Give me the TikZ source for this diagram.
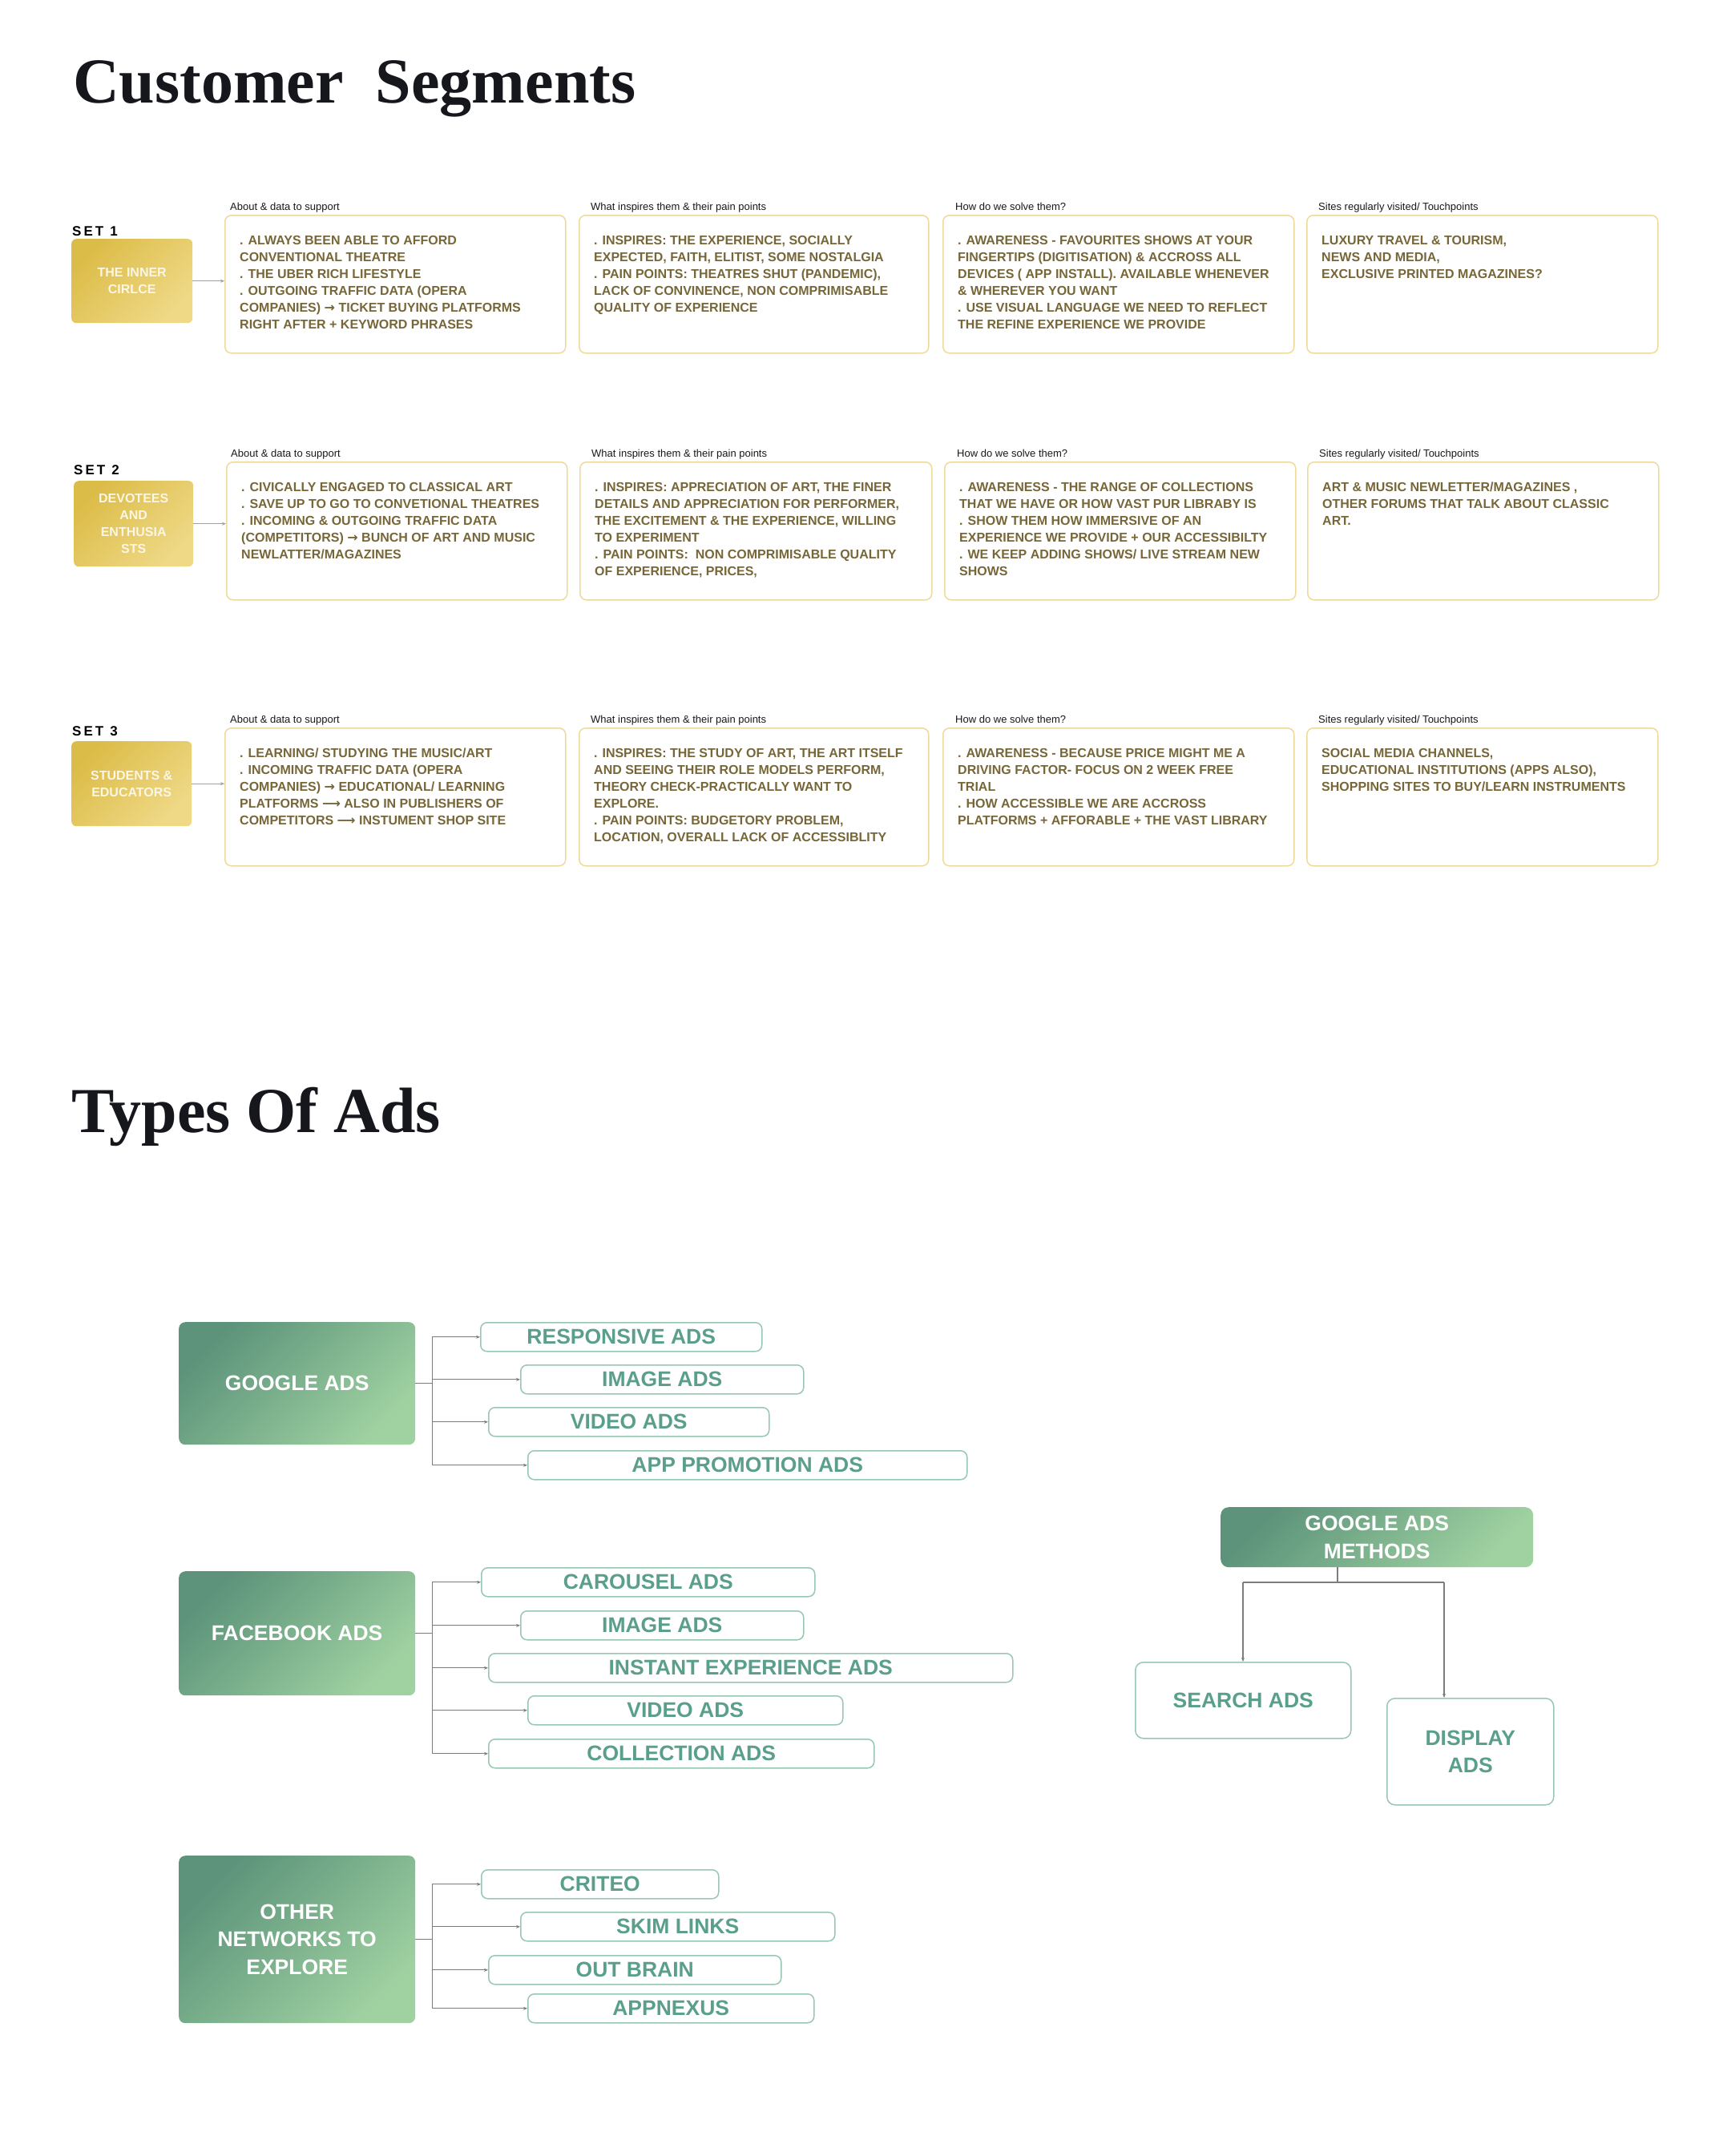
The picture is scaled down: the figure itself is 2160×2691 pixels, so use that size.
\documentclass[tikz,border=0pt]{standalone}
\usepackage{fontspec}
\setmainfont{Liberation Sans}
\newfontfamily\titlefont{Liberation Serif}
\newfontfamily\arrowfont{DejaVu Sans}
\usetikzlibrary{arrows.meta,calc}
\definecolor{ctext}{HTML}{766638}
\definecolor{cborder}{HTML}{EEDB9C}
\definecolor{goldA}{HTML}{DCBC48}
\definecolor{goldB}{HTML}{EFD987}
\definecolor{goldtxt}{HTML}{FBF6E6}
\definecolor{grA}{HTML}{5C937A}
\definecolor{grB}{HTML}{9FD1A1}
\definecolor{kborder}{HTML}{98C7B2}
\definecolor{ktext}{HTML}{5A9F8B}
\definecolor{lineg}{HTML}{7C7C7C}
\definecolor{lines}{HTML}{A0A0A0}
\definecolor{titlec}{HTML}{16171D}
\newcommand{\sar}{{\arrowfont →}}
\newcommand{\lar}{{\arrowfont ⟶}}
\tikzset{
  cbox/.style={draw=cborder, line width=1.5pt, rounded corners=8pt, fill=white, inner sep=0pt},
  ctext/.style={anchor=north west, inner sep=0pt, align=left, text=ctext, font=\fontsize{16}{21}\selectfont\bfseries},
  hdr/.style={anchor=base west, inner sep=0pt, font=\fontsize{13}{15}\selectfont, text=black!90},
  setlab/.style={anchor=base west, inner sep=0pt, font=\fontsize{17}{20}\selectfont\bfseries, text=black},
  goldbox/.style={rounded corners=6pt, top color=goldA, bottom color=goldB, shading angle=45, inner sep=0pt, anchor=north west, align=center, text=goldtxt, font=\fontsize{16}{21}\selectfont\bfseries},
  gbox/.style={rounded corners=8pt, top color=grA, bottom color=grB, shading angle=45, inner sep=0pt, anchor=north west, align=center, text=white, font=\fontsize{26.5}{34.5}\selectfont\bfseries},
  kbox/.style={draw=kborder, line width=1.5pt, rounded corners=8pt, fill=white, inner sep=0pt, anchor=north west, align=center, text=ktext, font=\fontsize{26.5}{34.5}\selectfont\bfseries},
  sarr/.style={draw=lines, line width=1.3pt, -{Stealth[length=5pt,width=4pt]}},
  aline/.style={draw=lineg, line width=1.2pt},
  aarr/.style={draw=lineg, line width=1.2pt, -{Stealth[length=5pt,width=4pt]}},
  ttl/.style={anchor=base west, inner sep=0pt, text=titlec, font=\titlefont\bfseries\fontsize{80}{90}\selectfont}
}
% name, x, y, width, header offset, header, text
\newcommand{\mkcbox}[7]{%
  \node[cbox, minimum width=#4pt, minimum height=172pt, anchor=north west] (#1) at (#2,#3) {};
  \node[hdr] (#1h) at ([shift={(#5,-6)}]#1.north west) {#6};
  \node[ctext] (#1t) at ([shift={(19,26)}]#1.north west) {#7};
}
\newcommand{\mkkid}[5]{%
  \node[kbox, minimum width=#4pt, minimum height=36pt] (#1) at (#2,#3) {#5};
}
\begin{document}
\begin{tikzpicture}[x=1pt,y=-1pt]
\useasboundingbox (0,0) rectangle (2160,2691);
\fill[white] (0,0) rectangle (2160,2691);

% Titles
\node[ttl] (t1) at (91,128) {Customer\ \ Segments};
\node[ttl] (t2) at (89,1413) {Types Of Ads};

% ---------- SET 1 ----------
\node[setlab] (set1) at (90,294) {S\kern3pt E\kern3pt T\kern8pt 1};
\node[goldbox, minimum width=151pt, minimum height=105pt] (lab1) at (89,298) {THE INNER\\CIRLCE};
\mkcbox{s1a}{280}{268}{425}{7}{About \& data to support}{. ALWAYS BEEN ABLE TO AFFORD\\CONVENTIONAL THEATRE\\. THE UBER RICH LIFESTYLE\\. OUTGOING TRAFFIC DATA (OPERA\\COMPANIES) \sar{} TICKET BUYING PLATFORMS\\RIGHT AFTER + KEYWORD PHRASES}
\mkcbox{s1b}{722}{268}{436}{15}{What inspires them \& their pain points}{. INSPIRES: THE EXPERIENCE, SOCIALLY\\EXPECTED, FAITH, ELITIST, SOME NOSTALGIA\\. PAIN POINTS: THEATRES SHUT (PANDEMIC),\\LACK OF CONVINENCE, NON COMPRIMISABLE\\QUALITY OF EXPERIENCE}
\mkcbox{s1c}{1176}{268}{438}{16}{How do we solve them?}{. AWARENESS - FAVOURITES SHOWS AT YOUR\\FINGERTIPS (DIGITISATION) \& ACCROSS ALL\\DEVICES ( APP INSTALL). AVAILABLE WHENEVER\\\& WHEREVER YOU WANT\\. USE VISUAL LANGUAGE WE NEED TO REFLECT\\THE REFINE EXPERIENCE WE PROVIDE}
\mkcbox{s1d}{1630}{268}{438}{15}{Sites regularly visited/ Touchpoints}{LUXURY TRAVEL \& TOURISM,\\NEWS AND MEDIA,\\EXCLUSIVE PRINTED MAGAZINES?}
\draw[sarr] (lab1.east) -- (lab1.east -| s1a.west);

% ---------- SET 2 ----------
\node[setlab] (set2) at (92,592) {S\kern3pt E\kern3pt T\kern8pt 2};
\node[goldbox, minimum width=149pt, minimum height=107pt] (lab2) at (92,600) {DEVOTEES\\AND\\ENTHUSIA\\STS};
\mkcbox{s2a}{282}{576}{425}{6}{About \& data to support}{. CIVICALLY ENGAGED TO CLASSICAL ART\\. SAVE UP TO GO TO CONVETIONAL THEATRES\\. INCOMING \& OUTGOING TRAFFIC DATA\\(COMPETITORS) \sar{} BUNCH OF ART AND MUSIC\\NEWLATTER/MAGAZINES}
\mkcbox{s2b}{723}{576}{439}{15}{What inspires them \& their pain points}{. INSPIRES: APPRECIATION OF ART, THE FINER\\DETAILS AND APPRECIATION FOR PERFORMER,\\THE EXCITEMENT \& THE EXPERIENCE, WILLING\\TO EXPERIMENT\\. PAIN POINTS:\ \ NON COMPRIMISABLE QUALITY\\OF EXPERIENCE, PRICES,}
\mkcbox{s2c}{1178}{576}{438}{16}{How do we solve them?}{. AWARENESS - THE RANGE OF COLLECTIONS\\THAT WE HAVE OR HOW VAST PUR LIBRABY IS\\. SHOW THEM HOW IMMERSIVE OF AN\\EXPERIENCE WE PROVIDE + OUR ACCESSIBILTY\\. WE KEEP ADDING SHOWS/ LIVE STREAM NEW\\SHOWS}
\mkcbox{s2d}{1631}{576}{438}{15}{Sites regularly visited/ Touchpoints}{ART \& MUSIC NEWLETTER/MAGAZINES ,\\OTHER FORUMS THAT TALK ABOUT CLASSIC\\ART.}
\draw[sarr] (lab2.east) -- (lab2.east -| s2a.west);

% ---------- SET 3 ----------
\node[setlab] (set3) at (90,918) {S\kern3pt E\kern3pt T\kern8pt 3};
\node[goldbox, minimum width=150pt, minimum height=106pt] (lab3) at (89,925) {STUDENTS \&\\EDUCATORS};
\mkcbox{s3a}{280}{908}{425}{7}{About \& data to support}{. LEARNING/ STUDYING THE MUSIC/ART\\. INCOMING TRAFFIC DATA (OPERA\\COMPANIES) \sar{} EDUCATIONAL/ LEARNING\\PLATFORMS \lar{} ALSO IN PUBLISHERS OF\\COMPETITORS \lar{} INSTUMENT SHOP SITE}
\mkcbox{s3b}{722}{908}{436}{15}{What inspires them \& their pain points}{. INSPIRES: THE STUDY OF ART, THE ART ITSELF\\AND SEEING THEIR ROLE MODELS PERFORM,\\THEORY CHECK-PRACTICALLY WANT TO\\EXPLORE.\\. PAIN POINTS: BUDGETORY PROBLEM,\\LOCATION, OVERALL LACK OF ACCESSIBLITY}
\mkcbox{s3c}{1176}{908}{438}{16}{How do we solve them?}{. AWARENESS - BECAUSE PRICE MIGHT ME A\\DRIVING FACTOR- FOCUS ON 2 WEEK FREE\\TRIAL\\. HOW ACCESSIBLE WE ARE ACCROSS\\PLATFORMS + AFFORABLE + THE VAST LIBRARY}
\mkcbox{s3d}{1630}{908}{438}{15}{Sites regularly visited/ Touchpoints}{SOCIAL MEDIA CHANNELS,\\EDUCATIONAL INSTITUTIONS (APPS ALSO),\\SHOPPING SITES TO BUY/LEARN INSTRUMENTS}
\draw[sarr] (lab3.east) -- (lab3.east -| s3a.west);

% ---------- GOOGLE ADS ----------
\node[gbox, minimum width=295pt, minimum height=153pt] (gp) at (223,1650) {GOOGLE ADS};
\mkkid{ga1}{599}{1650}{351}{RESPONSIVE ADS}
\mkkid{ga2}{649}{1703}{353}{IMAGE ADS}
\mkkid{ga3}{609}{1756}{350}{VIDEO ADS}
\mkkid{ga4}{658}{1810}{548}{APP PROMOTION ADS}
\path (gp.east) ++(21,0) coordinate (gtr);
\draw[aline] (gp.east) -- (gtr);
\draw[aline] (gtr |- ga1.west) -- (gtr |- ga4.west);
\foreach \c in {ga1,ga2,ga3,ga4} \draw[aarr] (gtr |- \c.west) -- (\c.west);

% ---------- FACEBOOK ADS ----------
\node[gbox, minimum width=295pt, minimum height=155pt] (fp) at (223,1961) {FACEBOOK ADS};
\mkkid{fa1}{600}{1956}{416}{CAROUSEL ADS}
\mkkid{fa2}{649}{2010}{353}{IMAGE ADS}
\mkkid{fa3}{609}{2063}{654}{INSTANT EXPERIENCE ADS}
\mkkid{fa4}{658}{2116}{393}{VIDEO ADS}
\mkkid{fa5}{609}{2170}{481}{COLLECTION ADS}
\path (fp.east) ++(21,0) coordinate (ftr);
\draw[aline] (fp.east) -- (ftr);
\draw[aline] (ftr |- fa1.west) -- (ftr |- fa5.west);
\foreach \c in {fa1,fa2,fa3,fa4,fa5} \draw[aarr] (ftr |- \c.west) -- (\c.west);

% ---------- OTHER NETWORKS ----------
\node[gbox, minimum width=295pt, minimum height=209pt] (op) at (223,2316) {OTHER\\NETWORKS TO\\EXPLORE};
\mkkid{oa1}{600}{2333}{296}{CRITEO}
\mkkid{oa2}{649}{2386}{392}{SKIM LINKS}
\mkkid{oa3}{609}{2440}{365}{OUT BRAIN}
\mkkid{oa4}{658}{2488}{357}{APPNEXUS}
\path (op.east) ++(21,0) coordinate (otr);
\draw[aline] (op.east) -- (otr);
\draw[aline] (otr |- oa1.west) -- (otr |- oa4.west);
\foreach \c in {oa1,oa2,oa3,oa4} \draw[aarr] (otr |- \c.west) -- (\c.west);

% ---------- GOOGLE ADS METHODS ----------
\node[gbox, rounded corners=10pt, minimum width=390pt, minimum height=75pt] (gm) at (1523,1881) {GOOGLE ADS\\METHODS};
\node[kbox, rounded corners=10pt, minimum width=269pt, minimum height=95pt] (ss) at (1416,2074) {SEARCH ADS};
\node[kbox, rounded corners=10pt, minimum width=208pt, minimum height=133pt] (da) at (1730,2119) {DISPLAY\\ADS};
\coordinate (mj) at (1669,1975);
\coordinate (sj) at (1551,1975);
\coordinate (dj) at (1802,1975);
\draw[aline] (mj |- gm.south) -- (mj);
\draw[aline] (sj) -- (dj);
\draw[aarr] (sj) -- (sj |- ss.north);
\draw[aarr] (dj) -- (dj |- da.north);
\end{tikzpicture}
\end{document}
